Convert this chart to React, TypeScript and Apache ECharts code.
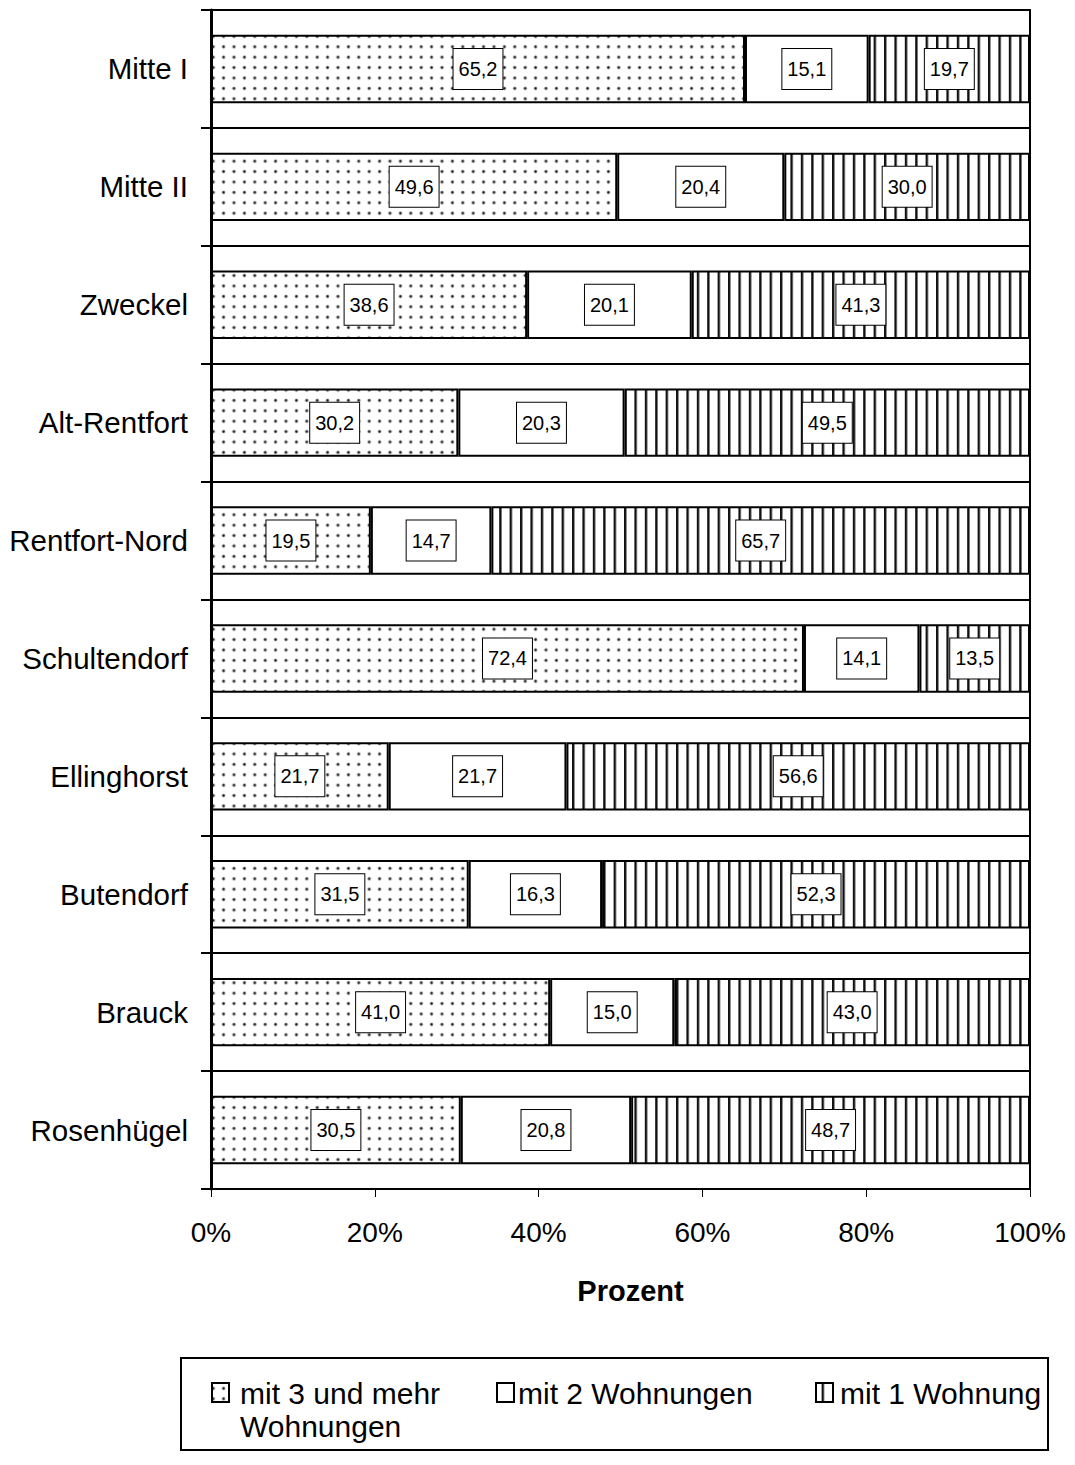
import React, { useEffect, useRef } from "react";
import * as echarts from "echarts";

const categories = [
  "Mitte I",
  "Mitte II",
  "Zweckel",
  "Alt-Rentfort",
  "Rentfort-Nord",
  "Schultendorf",
  "Ellinghorst",
  "Butendorf",
  "Brauck",
  "Rosenhügel",
];
const seriesNames = ["mit 3 und mehr Wohnungen", "mit 2 Wohnungen", "mit 1 Wohnung"];
const mit3 = [65.2, 49.6, 38.6, 30.2, 19.5, 72.4, 21.7, 31.5, 41.0, 30.5];
const mit2 = [15.1, 20.4, 20.1, 20.3, 14.7, 14.1, 21.7, 16.3, 15.0, 20.8];
const mit1 = [19.7, 30.0, 41.3, 49.5, 65.7, 13.5, 56.6, 52.3, 43.0, 48.7];
const axisMax = 100;
const axisStep = 20;

const FONT = '"Liberation Sans", Arial, Helvetica, sans-serif';

const dotSvg =
  '<svg xmlns="http://www.w3.org/2000/svg" width="10.4" height="10.4">' +
  '<rect width="10.4" height="10.4" fill="#fff"/>' +
  '<circle cx="5.2" cy="5.2" r="1.9" fill="#aaa"/>' +
  '<circle cx="5.2" cy="5.2" r="1.1" fill="#111"/></svg>';
const stripeSvg =
  '<svg xmlns="http://www.w3.org/2000/svg" width="10.4" height="10">' +
  '<rect width="10.4" height="10" fill="#fff"/>' +
  '<rect x="0" y="0" width="2.4" height="10" fill="#111"/></svg>';

const dotPattern: any = {
  image: "data:image/svg+xml;charset=utf-8," + encodeURIComponent(dotSvg),
  repeat: "repeat",
  imageWidth: 10.4,
  imageHeight: 10.4,
};
const stripePattern: any = {
  image: "data:image/svg+xml;charset=utf-8," + encodeURIComponent(stripeSvg),
  repeat: "repeat",
  imageWidth: 10.4,
  imageHeight: 10,
};

export default function App() {
  const ref = useRef<HTMLDivElement>(null);
  useEffect(() => {
    if (!ref.current) return;
    const chart = echarts.init(ref.current, undefined, { renderer: "svg" });
    const raws = [mit3, mit2, mit1];
    const fills = [dotPattern, "#ffffff", stripePattern];
    const series = raws.map((arr, si) => ({
      name: seriesNames[si],
      type: "bar",
      stack: "total",
      barCategoryGap: "42%",
      emphasis: { disabled: true },
      data: arr.map((v, i) => {
        const tot = mit3[i] + mit2[i] + mit1[i];
        return { value: (v / tot) * 100, raw: v };
      }),
      itemStyle: { color: fills[si], borderColor: "#000", borderWidth: 2 },
      label: {
        show: true,
        position: "inside",
        formatter: (p: any) => p.data.raw.toFixed(1).replace(".", ","),
        fontSize: 20,
        lineHeight: 22,
        fontFamily: FONT,
        color: "#000",
        backgroundColor: "#fff",
        borderColor: "#000",
        borderWidth: 1,
        padding: [9, 5],
      },
    }));

    const legendText = (x: number, y: number, text: string) => ({
      type: "text",
      x,
      y,
      style: { text, font: `30px ${FONT}`, fill: "#000", verticalAlign: "middle", align: "left" },
      z: 10,
    });
    const legendIcon = (x: number, fill: any) => ({
      type: "rect",
      shape: { x, y: 1383, width: 17, height: 19 },
      style: { fill, stroke: "#000", lineWidth: 2 },
      z: 10,
    });

    chart.setOption({
      animation: false,
      backgroundColor: "#fff",
      grid: {
        left: 211,
        right: 45,
        top: 10,
        bottom: 276,
        show: true,
        borderColor: "#000",
        borderWidth: 2,
        backgroundColor: "transparent",
      },
      xAxis: {
        type: "value",
        min: 0,
        max: axisMax,
        interval: axisStep,
        name: "Prozent",
        nameLocation: "middle",
        nameGap: 87,
        nameTextStyle: {
          fontSize: 29,
          fontWeight: "bold",
          color: "#000",
          fontFamily: FONT,
          padding: [0, 0, 0, 20],
        },
        axisLine: { show: true, lineStyle: { color: "#000", width: 2 } },
        axisTick: { show: true, length: 8, lineStyle: { color: "#000", width: 1 } },
        axisLabel: { formatter: "{value}%", fontSize: 28, color: "#000", margin: 29, fontFamily: FONT },
        splitLine: { show: false },
      },
      yAxis: {
        type: "category",
        data: categories,
        inverse: true,
        axisLine: { show: true, lineStyle: { color: "#000", width: 3 } },
        axisTick: { show: true, length: 10, lineStyle: { color: "#000", width: 2 } },
        axisLabel: { fontSize: 29.5, color: "#000", margin: 23, fontFamily: FONT },
        splitLine: { show: true, lineStyle: { color: "#000", width: 2 } },
      },
      series,
      graphic: [
        {
          type: "rect",
          shape: { x: 181, y: 1358, width: 867, height: 92 },
          style: { fill: "#fff", stroke: "#000", lineWidth: 2 },
          z: 5,
        },
        legendIcon(212, dotPattern),
        legendText(240, 1393, "mit 3 und mehr"),
        legendText(240, 1426, "Wohnungen"),
        legendIcon(497, "#fff"),
        legendText(518, 1393, "mit 2 Wohnungen"),
        legendIcon(816, stripePattern),
        legendText(840, 1393, "mit 1 Wohnung"),
      ],
    });
    return () => chart.dispose();
  }, []);
  return (
    <div
      ref={ref}
      style={{ position: "absolute", left: 0, top: 0, width: 1075, height: 1465 }}
    />
  );
}
